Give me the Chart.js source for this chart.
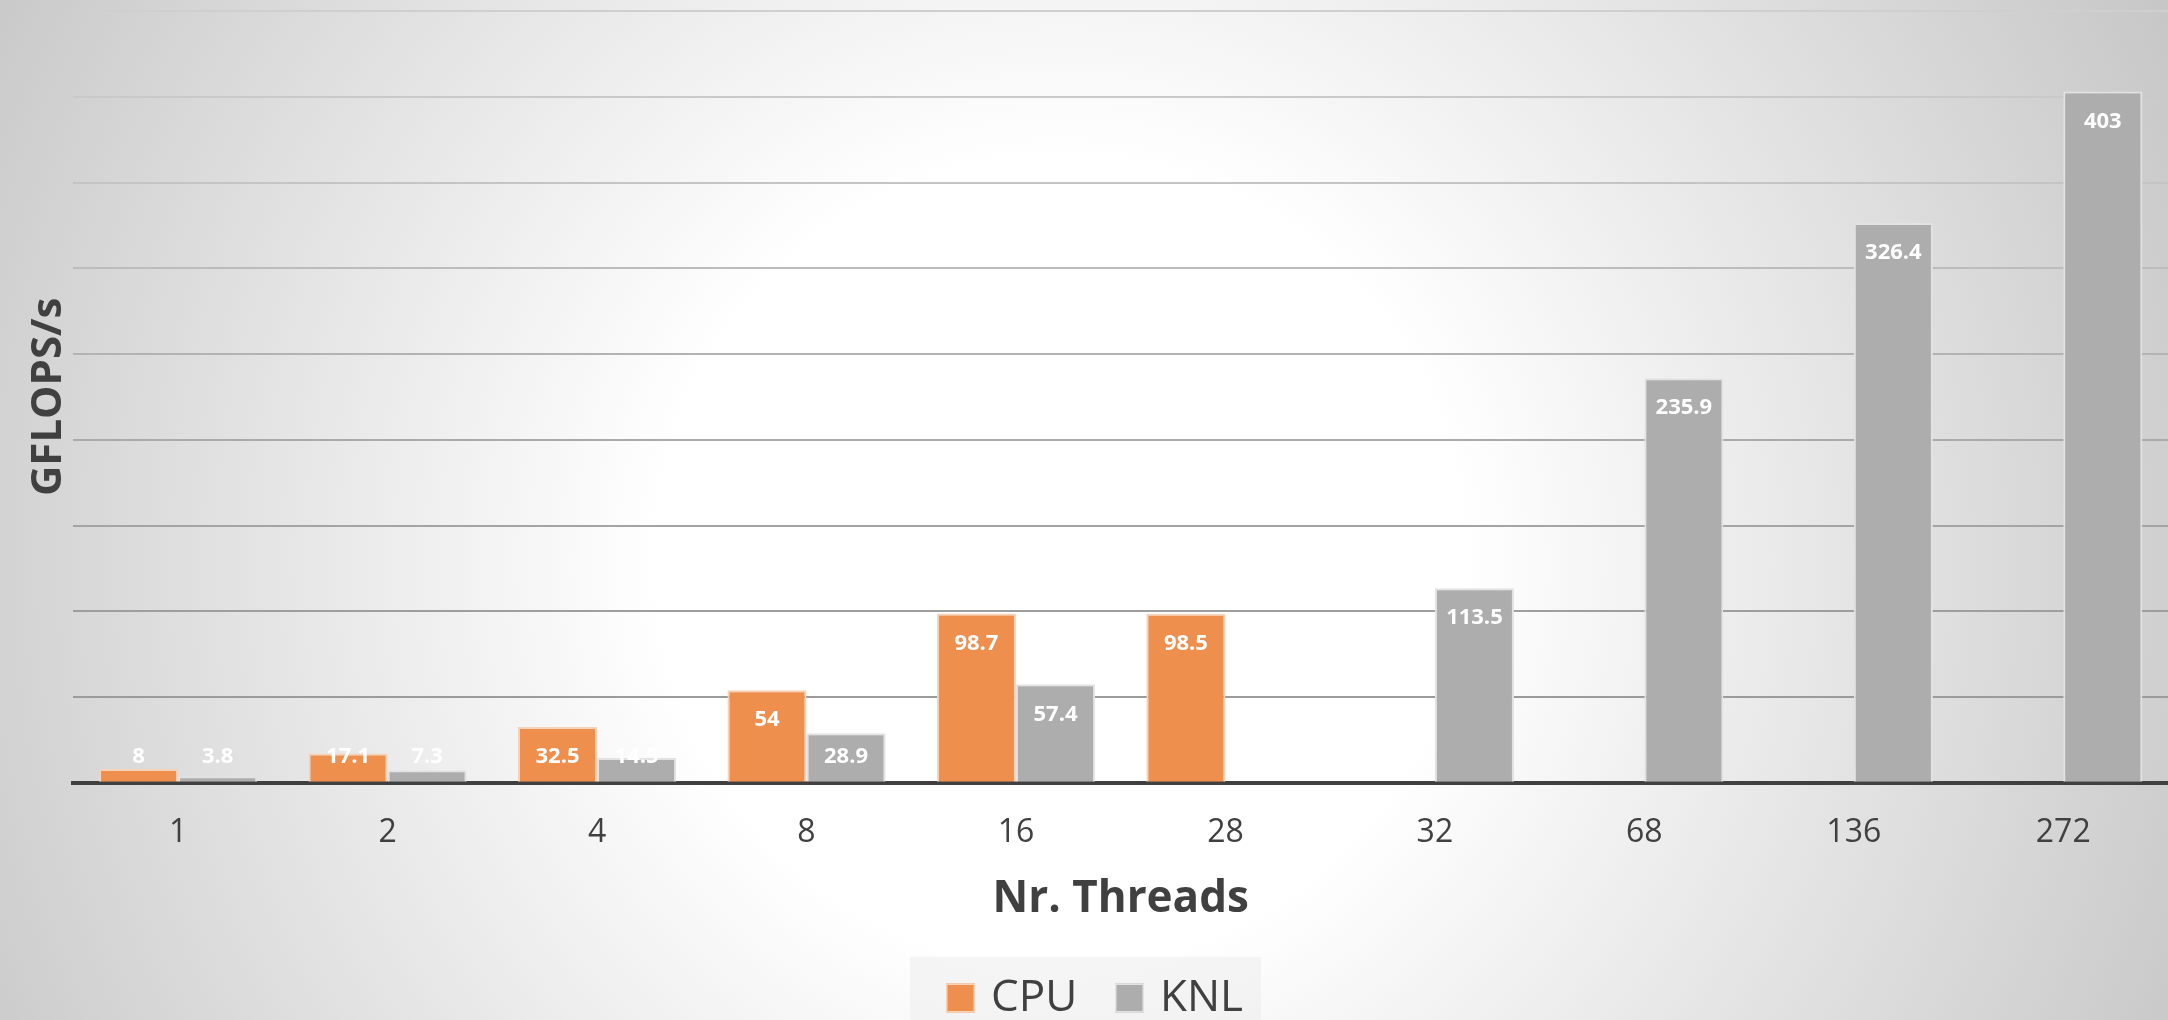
<!DOCTYPE html>
<html>
<head>
<meta charset="utf-8">
<script src="https://cdn.jsdelivr.net/npm/chart.js@4.4.1/dist/chart.umd.min.js"></script>
<style>
  html, body { margin: 0; padding: 0; background: #ffffff; overflow: hidden; }
  canvas { display: block; }
</style>
</head>
<body>
<canvas id="chart" width="2168" height="1020"></canvas>
<script>
// Thread counts on the x axis
const threads = ['1', '2', '4', '8', '16', '28', '32', '68', '136', '272'];
// Measured throughput in GFLOPS/s (null = not run on that device)
const cpuGflops = [8, 17.1, 32.5, 54, 98.7, 98.5, null, null, null, null];
const knlGflops = [3.8, 7.3, 14.5, 28.9, 57.4, null, 113.5, 235.9, 326.4, 403];
// Value axis range and gridline step
const yMax = 450;
const yStep = 50;
// Gridline shades, from the lowest line upwards
const gridShades = ['#9b9b9b', '#9e9e9e', '#a4a4a4', '#aaaaaa', '#b3b3b3', '#bcbcbc', '#c4c4c4', '#c9c9c9', '#cfcfcf'];

const FONT = "'Open Sans', 'DejaVu Sans', sans-serif";
const TEXT = '#404040';

// Soft radial backdrop behind the whole chart
const backdrop = {
  id: 'backdrop',
  beforeDraw(chart) {
    const { ctx, width, height } = chart;
    ctx.save();
    const g = ctx.createRadialGradient(1060, 560, 0, 1060, 560, 1250);
    g.addColorStop(0, '#ffffff');
    g.addColorStop(0.32, '#ffffff');
    g.addColorStop(1, '#c6c6c6');
    ctx.fillStyle = g;
    ctx.fillRect(0, 0, width, height);
    ctx.restore();
  }
};

// White value labels near the top of each bar
const barValues = {
  id: 'barValues',
  afterDatasetsDraw(chart) {
    const { ctx } = chart;
    ctx.save();
    ctx.font = 'bold 22px ' + FONT;
    ctx.fillStyle = '#ffffff';
    ctx.textAlign = 'center';
    ctx.textBaseline = 'middle';
    chart.data.datasets.forEach((ds, di) => {
      const meta = chart.getDatasetMeta(di);
      meta.data.forEach((bar, i) => {
        const v = ds.data[i];
        if (v === null || v === undefined) return;
        const y = Math.min(bar.y + 30, bar.base - 25);
        ctx.fillText(String(v), bar.x, y);
      });
    });
    ctx.restore();
  }
};

// Series key in a pale panel along the bottom edge
const seriesKey = {
  id: 'seriesKey',
  afterDraw(chart) {
    const { ctx, height } = chart;
    const panelLeft = 910, panelRight = 1261, panelTop = 957;
    const itemX = [946, 1115];
    const midY = 998;
    const box = 29;
    ctx.save();
    ctx.fillStyle = 'rgba(236,236,236,0.55)';
    ctx.fillRect(panelLeft, panelTop, panelRight - panelLeft, height - panelTop);
    ctx.font = '44px ' + FONT;
    ctx.textAlign = 'left';
    ctx.textBaseline = 'middle';
    chart.data.datasets.forEach((ds, i) => {
      const x = itemX[i];
      ctx.fillStyle = ds.backgroundColor;
      ctx.fillRect(x, midY - box / 2, box, box);
      ctx.strokeStyle = ds.borderColor;
      ctx.lineWidth = 1.5;
      ctx.strokeRect(x + 0.75, midY - box / 2 + 0.75, box - 1.5, box - 1.5);
      ctx.fillStyle = TEXT;
      ctx.fillText(ds.label, x + box + 16, midY);
    });
    ctx.restore();
  }
};

new Chart(document.getElementById('chart'), {
  type: 'bar',
  data: {
    labels: threads,
    datasets: [
      {
        label: 'CPU',
        data: cpuGflops,
        backgroundColor: '#EE8F4E',
        borderColor: '#F6D3B8',
        borderWidth: 2
      },
      {
        label: 'KNL',
        data: knlGflops,
        backgroundColor: '#ADADAD',
        borderColor: '#E2E2E2',
        borderWidth: 2
      }
    ]
  },
  options: {
    responsive: false,
    animation: false,
    devicePixelRatio: 1,
    layout: { padding: { top: 11, right: 0, left: 0, bottom: 88 } },
    datasets: {
      bar: { categoryPercentage: 0.755, barPercentage: 1.0 }
    },
    scales: {
      x: {
        z: 1,
        grid: { display: false, drawTicks: false },
        border: { display: true, color: '#404040', width: 4 },
        ticks: { color: TEXT, font: { family: FONT, size: 32 }, padding: 31 },
        title: {
          display: true,
          text: 'Nr. Threads',
          color: TEXT,
          font: { family: FONT, size: 44, weight: 'bold' },
          padding: { top: -10, bottom: 6 }
        }
      },
      y: {
        min: 0,
        max: yMax,
        ticks: { display: false, stepSize: yStep },
        border: { display: false },
        grid: {
          drawTicks: false,
          lineWidth: 2,
          color: (c) => (c.tick && c.tick.value > 0) ? gridShades[Math.round(c.tick.value / yStep) - 1] : 'rgba(0,0,0,0)'
        },
        title: {
          display: true,
          text: 'GFLOPS/s',
          color: TEXT,
          font: { family: FONT, size: 42, weight: 'bold' },
          padding: { top: 24, bottom: -1 }
        }
      }
    },
    plugins: {
      legend: { display: false },
      tooltip: { enabled: false }
    }
  },
  plugins: [backdrop, barValues, seriesKey]
});
</script>
</body>
</html>
